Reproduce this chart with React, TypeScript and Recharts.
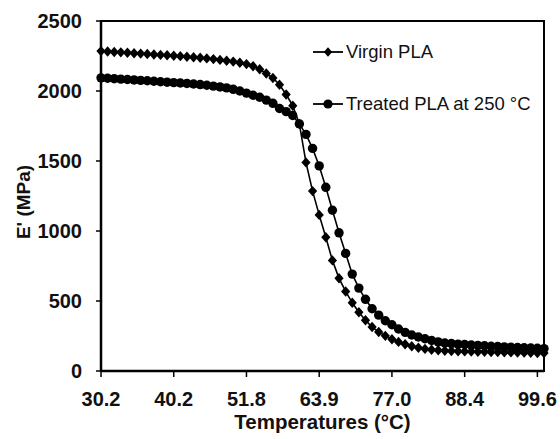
import { LineChart, Line, XAxis, YAxis, ReferenceArea } from 'recharts';

// temperature categories (°C), one per measurement
const temps = [
    '30.2', '31.1', '32.0', '32.9', '33.8', '34.7', '35.6', '36.5', '37.5', '38.4', '39.3',
    '40.2', '41.3', '42.3', '43.4', '44.4', '45.5', '46.5', '47.6', '48.6', '49.7', '50.7',
    '51.8', '52.9', '54.0', '55.1', '56.2', '57.3', '58.4', '59.5', '60.6', '61.7', '62.8',
    '63.9', '65.1', '66.3', '67.5', '68.7', '69.9', '71.0', '72.2', '73.4', '74.6', '75.8',
    '77.0', '78.0', '79.1', '80.1', '81.1', '82.2', '83.2', '84.3', '85.3', '86.3', '87.4',
    '88.4', '89.4', '90.4', '91.5', '92.5', '93.5', '94.5', '95.5', '96.5', '97.6', '98.6',
    '99.6', '100.6',
];

// storage modulus E' (MPa)
const virginPla = [
    2285, 2282, 2279, 2276, 2273, 2270, 2267, 2264, 2261, 2258, 2255,
    2252, 2249, 2245, 2241, 2237, 2233, 2228, 2222, 2216, 2210, 2202,
    2192, 2177, 2155, 2125, 2093, 2045, 1975, 1895, 1765, 1490, 1285,
    1115, 955, 790, 662, 568, 487, 420, 363, 314, 279, 251, 227, 208,
    191, 177, 166, 158, 152, 148, 145, 143, 141, 140, 139, 138, 137,
    136, 135, 134, 133, 132, 131, 130, 129, 128,
];

const treatedPla = [
    2094, 2091, 2088, 2085, 2082, 2079, 2076, 2073, 2070, 2066, 2063,
    2060, 2057, 2054, 2050, 2046, 2041, 2035, 2029, 2022, 2012, 2000,
    1985, 1970, 1955, 1935, 1912, 1875, 1853, 1825, 1765, 1690, 1590,
    1465, 1312, 1148, 987, 840, 692, 592, 512, 445, 399, 359, 330, 300,
    276, 257, 243, 230, 218, 208, 200, 196, 192, 189, 186, 183, 180,
    177, 175, 172, 170, 168, 166, 164, 162, 160,
];

const yTicks = [0, 500, 1000, 1500, 2000, 2500];

const FONT = '"Liberation Sans", Arial, sans-serif';
const INK = '#111';

const data = temps.map((t, i) => ({ temp: t, virgin: virginPla[i], treated: treatedPla[i] }));

const diamondPath = (cx: number, cy: number, w = 4.6, h = 5.2) =>
    `M${cx},${cy - h}L${cx + w},${cy}L${cx},${cy + h}L${cx - w},${cy}Z`;

const renderDiamond = (props: any) => {
    const { cx, cy, index } = props;
    if (cx == null || cy == null) return <g key={`d-${index}`} />;
    return <path key={`d-${index}`} d={diamondPath(cx, cy)} fill="#000" />;
};

const renderCircle = (props: any) => {
    const { cx, cy, index } = props;
    if (cx == null || cy == null) return <g key={`c-${index}`} />;
    return <circle key={`c-${index}`} cx={cx} cy={cy} r={4.7} fill="#000" />;
};

function ChartLegend() {
    return (
        <div
            style={{
                position: 'absolute',
                left: 313,
                top: 42,
                fontFamily: FONT,
                fontSize: 18.5,
                color: INK,
                lineHeight: '20px',
            }}
        >
            <div style={{ display: 'flex', alignItems: 'center', height: 20 }}>
                <svg width={33} height={12}>
                    <line x1={0} y1={6} x2={30} y2={6} stroke="#000" strokeWidth={1.8} />
                    <path d={diamondPath(15, 6, 4.2, 4.8)} fill="#000" />
                </svg>
                <span>Virgin PLA</span>
            </div>
            <div style={{ display: 'flex', alignItems: 'center', height: 20, marginTop: 32 }}>
                <svg width={33} height={12}>
                    <line x1={0} y1={6} x2={30} y2={6} stroke="#000" strokeWidth={1.8} />
                    <circle cx={15} cy={6} r={4.6} fill="#000" />
                </svg>
                <span>Treated PLA at 250 °C</span>
            </div>
        </div>
    );
}

export default function App() {
    return (
        <div style={{ position: 'absolute', left: 0, top: 0, width: 560, height: 439, background: '#fff' }}>
            <LineChart
                width={560}
                height={439}
                data={data}
                margin={{ top: 21, right: 16, bottom: 0, left: 0 }}
            >
                <XAxis
                    dataKey="temp"
                    interval={10}
                    height={68}
                    axisLine={{ stroke: '#000', strokeWidth: 2.5 }}
                    tickLine={{ stroke: '#000', strokeWidth: 1.5 }}
                    tickSize={6}
                    tickMargin={15}
                    tick={{ fill: INK, fontSize: 20, fontWeight: 'bold', fontFamily: FONT }}
                    label={{
                        content: (p: any) => {
                            const vb = p.viewBox || { x: 101, y: 371, width: 443 };
                            return (
                                <text
                                    x={vb.x + vb.width / 2}
                                    y={vb.y + 58}
                                    textAnchor="middle"
                                    fill={INK}
                                    fontSize={20.5}
                                    fontWeight="bold"
                                    fontFamily={FONT}
                                >
                                    Temperatures (°C)
                                </text>
                            );
                        },
                    }}
                />
                <YAxis
                    width={101}
                    domain={[0, 2500]}
                    ticks={yTicks}
                    interval={0}
                    axisLine={{ stroke: '#000', strokeWidth: 2.5 }}
                    tickLine={{ stroke: '#000', strokeWidth: 1.5 }}
                    tickSize={5}
                    tickMargin={14}
                    tick={{ fill: INK, fontSize: 20, fontWeight: 'bold', fontFamily: FONT }}
                    label={{
                        content: (p: any) => {
                            const vb = p.viewBox || { x: 0, y: 21, height: 350 };
                            const cy = vb.y + vb.height / 2 + 6;
                            return (
                                <text
                                    x={30}
                                    y={cy}
                                    transform={`rotate(-90, 30, ${cy})`}
                                    textAnchor="middle"
                                    fill={INK}
                                    fontSize={19}
                                    fontWeight="bold"
                                    fontFamily={FONT}
                                >
                                    E' (MPa)
                                </text>
                            );
                        },
                    }}
                />
                <ReferenceArea
                    x1="30.2"
                    x2="100.6"
                    y1={0}
                    y2={2500}
                    fill="none"
                    fillOpacity={0}
                    stroke="#000"
                    strokeWidth={2}
                    ifOverflow="visible"
                />
                <Line
                    dataKey="virgin"
                    name="Virgin PLA"
                    type="linear"
                    stroke="#000"
                    strokeWidth={1.6}
                    dot={renderDiamond}
                    activeDot={false}
                    isAnimationActive={false}
                />
                <Line
                    dataKey="treated"
                    name="Treated PLA at 250 °C"
                    type="linear"
                    stroke="#000"
                    strokeWidth={1.6}
                    dot={renderCircle}
                    activeDot={false}
                    isAnimationActive={false}
                />
            </LineChart>
            <ChartLegend />
        </div>
    );
}
